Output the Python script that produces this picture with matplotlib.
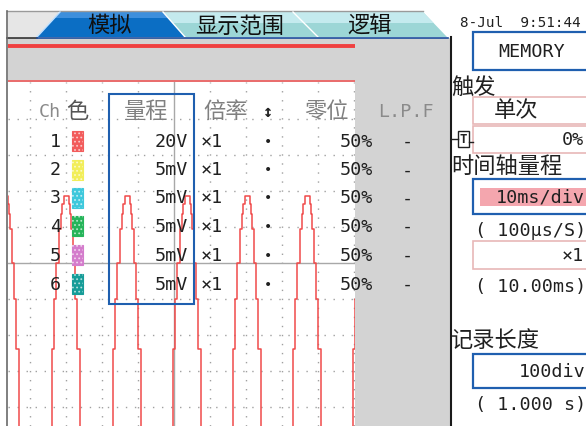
import matplotlib
matplotlib.use('Agg')
import matplotlib.pyplot as plt
from matplotlib import font_manager
from matplotlib.patches import Rectangle, Polygon

names = {f.name for f in font_manager.fontManager.ttflist}
if 'Noto Sans Mono CJK SC' in names:
    ui_font = ['Noto Sans Mono CJK SC', 'DejaVu Sans Mono', 'DejaVu Sans']
else:
    ui_font = ['DejaVu Sans Mono', 'Noto Sans CJK SC', 'DejaVu Sans']
plt.rcParams['font.family'] = ui_font
plt.rcParams['lines.scale_dashes'] = False
plt.rcParams['hatch.linewidth'] = 0.8

# ---- texts / table values ----
tabs = ['模拟', '显示范围', '逻辑']
clock = '8-Jul  9:51:44'
header = ['Ch', '色', '量程', '倍率', '↕', '零位', 'L.P.F']
channels = ['1', '2', '3', '4', '5', '6']
ch_colors = ['#f25c5c', '#f2ee5a', '#3ec8dc', '#26b45a', '#d47ccc', '#169c98']
ranges = ['20V', '5mV', '5mV', '5mV', '5mV', '5mV']
factors = ['×1', '×1', '×1', '×1', '×1', '×1']
zero_pos = ['50%', '50%', '50%', '50%', '50%', '50%']
lpf = ['-', '-', '-', '-', '-', '-']

mode = 'MEMORY'
trig_label = '触发'
trig_mode = '单次'
trig_pos = '0%'
time_label = '时间轴量程'
time_div = '10ms/div'
sample_rate = '( 100μs/S)'
zoom_factor = '×1'
zoom_time = '( 10.00ms)'
rec_label = '记录长度'
rec_len = '100div'
rec_time = '( 1.000 s)'

# ---- CH1 trace (time in ms, value in V, 20 V/div, zero at 50%) ----
ch1_ms = [-1.3, -0.8, -0.2, 0.3, 1.2, 1.7, 2.0, 2.5, 3.7, 3.9, 4.2, 4.5, 5.0, 5.6, 6.2, 7.0, 11.4,
          15.6, 16.1, 16.7, 17.2, 18.1, 18.6, 18.9, 19.4, 20.6, 20.8, 21.1, 21.4, 21.9, 22.5, 23.1, 23.9, 28.3,
          32.5, 33.0, 33.6, 34.1, 35.0, 35.5, 35.8, 36.3, 37.5, 37.7, 38.0, 38.3, 38.8, 39.4, 40.0, 40.8, 45.2,
          49.2, 49.7, 50.3, 50.8, 51.7, 52.2, 52.5, 53.0, 54.2, 54.4, 54.7, 55.0, 55.5, 56.1, 56.7, 57.5, 61.9,
          65.9, 66.4, 67.0, 67.5, 68.4, 68.9, 69.2, 69.7, 70.9, 71.1, 71.4, 71.7, 72.2, 72.8, 73.4, 74.2, 78.6,
          82.5, 83.0, 83.6, 84.1, 85.0, 85.5, 85.8, 86.3, 87.5, 87.7, 88.0, 88.3, 88.8, 89.4, 90.0, 90.8, 95.2,
          99.2, 99.7, 100.3, 100.8]
ch1_v = [-100, -48, -20, 0, 19, 27, 33, 37, 37, 33, 27, 19, 0, -20, -48, -100, -160,
         -100, -48, -20, 0, 19, 27, 33, 37, 37, 33, 27, 19, 0, -20, -48, -100, -160,
         -100, -48, -20, 0, 19, 27, 33, 37, 37, 33, 27, 19, 0, -20, -48, -100, -160,
         -100, -48, -20, 0, 19, 27, 33, 37, 37, 33, 27, 19, 0, -20, -48, -100, -160,
         -100, -48, -20, 0, 19, 27, 33, 37, 37, 33, 27, 19, 0, -20, -48, -100, -160,
         -100, -48, -20, 0, 19, 27, 33, 37, 37, 33, 27, 19, 0, -20, -48, -100, -160,
         -100, -48, -20, 0]
grid_ms = [10, 20, 30, 40, 60, 70, 80, 90, 100]
grid_v = [80, 60, 40, 20, -20, -40, -60, -80]

W, H = 586, 427
LAT = 13.2   # latin text size (narrow, like the recorder font)
CJK = 16
fig = plt.figure(figsize=(5.86, 4.27), dpi=100)
fig.patch.set_facecolor('white')

# background axes in screen pixels
bg = fig.add_axes([0, 0, 1, 1], zorder=0)
bg.set_xlim(0, W)
bg.set_ylim(H, 0)
bg.axis('off')

# tab strip
bg.add_patch(Rectangle((8, 12), 50, 26, fc='#e6e6e6', ec='none'))
bg.plot([7, 423], [12, 12], color='#9a9a9a', lw=1)
teal = Polygon([(163, 13), (423, 13), (447, 38), (185, 38)], fc='#9cd6d6', ec='none')
bg.add_patch(teal)
hl = Rectangle((150, 13), 300, 11, fc='#c4eaee', ec='none')
bg.add_patch(hl)
hl.set_clip_path(teal)
blue = Polygon([(60, 13), (163, 13), (185, 38), (37, 38)], fc='#0b6ec4', ec='none')
bg.add_patch(blue)
hl2 = Rectangle((30, 13), 160, 6, fc='#3d8fdc', ec='none')
bg.add_patch(hl2)
hl2.set_clip_path(blue)
bg.plot([37, 60], [38, 13], color='#bfe0ff', lw=1)
bg.plot([163, 185], [13, 38], color='white', lw=1)
bg.plot([293, 318], [13, 38], color='white', lw=1)
bg.plot([7, 37], [38.5, 38.5], color='#303030', lw=1.2)
bg.plot([37, 448], [38.5, 38.5], color='#1b4c9c', lw=1.2)
for s, cx in zip(tabs, [110, 240, 370]):
    bg.text(cx, 26, s, ha='center', va='center', fontsize=CJK, color='#101010')
bg.text(460, 23, clock, ha='left', va='center', fontsize=10.4, color='#202020')

# grey panel, red bars, frame lines
bg.add_patch(Rectangle((8, 39), 442, 388, fc='#d3d3d3', ec='none'))
bg.plot([8, 355], [47, 47], color='#f04040', lw=2.8, solid_capstyle='butt')
bg.plot([8, 355], [82, 82], color='#f05050', lw=1.1, solid_capstyle='butt')
bg.plot([7, 7], [12, 427], color='#6a6a6a', lw=1.2)
bg.plot([451, 451], [38, 427], color='#1a1a1a', lw=1.5)

# waveform screen
wv = fig.add_axes([8 / W, 0, (355 - 8) / W, (427 - 83) / H], zorder=1)
wv.set_facecolor('white')
wv.set_xlim(3.9, 100.3)
wv.set_ylim(-90.6, 100.6)
for sp in wv.spines.values():
    sp.set_visible(False)
wv.set_xticks([])
wv.set_yticks([])
for v in grid_v:
    wv.axhline(v, color='#a0a0a0', lw=1.0, ls=(0, (1.0, 5.5)))
for t in grid_ms:
    wv.axvline(t, color='#a0a0a0', lw=1.0, ls=(0, (1.0, 5.5)))
wv.axhline(0, color='#a8a8a8', lw=1.0)
wv.axvline(50, color='#a8a8a8', lw=1.0)
wv.plot(ch1_ms, ch1_v, color='#f04a4a', lw=1.1, drawstyle='steps-post', zorder=3)

# foreground axes in screen pixels
fg = fig.add_axes([0, 0, 1, 1], zorder=2)
fg.set_xlim(0, W)
fg.set_ylim(H, 0)
fg.axis('off')
fg.patch.set_alpha(0)

hy = 112
fg.text(61, hy, header[0], ha='right', va='center', fontsize=LAT, color='#8a8a8a')
fg.text(66, hy, header[1], ha='left', va='center', fontsize=CJK, color='#555555')
fg.text(146, hy, header[2], ha='center', va='center', fontsize=CJK, color='#808080')
fg.text(226, hy, header[3], ha='center', va='center', fontsize=CJK, color='#808080')
fg.text(268, hy, header[4], ha='center', va='center', fontsize=12, color='#222222', weight='bold')
fg.text(326, hy, header[5], ha='center', va='center', fontsize=CJK, color='#808080')
fg.text(406, hy, header[6], ha='center', va='center', fontsize=LAT, color='#8a8a8a')

row_y = [142, 170.5, 198.5, 227, 256, 285]
for i, y in enumerate(row_y):
    fg.text(61, y, channels[i], ha='right', va='center', fontsize=LAT, color='#202020')
    fg.add_patch(Rectangle((72, y - 10), 11, 20, fc=ch_colors[i], ec=ch_colors[i], lw=0.8))
    fg.add_patch(Rectangle((72, y - 10), 11, 20, fill=False, hatch='....', ec='white', lw=0, alpha=0.6))
    fg.text(188, y, ranges[i], ha='right', va='center', fontsize=LAT, color='#202020')
    fg.text(201, y, factors[i], ha='left', va='center', fontsize=LAT, color='#202020')
    fg.text(268, y, '•', ha='center', va='center', fontsize=10, color='#202020')
    fg.text(373, y, zero_pos[i], ha='right', va='center', fontsize=LAT, color='#202020')
    fg.text(407, y, lpf[i], ha='center', va='center', fontsize=LAT, color='#202020')
fg.add_patch(Rectangle((109, 95), 85, 210, fill=False, ec='#1f5faf', lw=1.5))

# right-hand settings panel
blue_ec = '#1f5faf'
pink_ec = '#e8b8b8'
fg.add_patch(Rectangle((473, 33), 130, 38, fc='white', ec=blue_ec, lw=1.6))
fg.text(532, 52, mode, ha='center', va='center', fontsize=LAT, color='#202020')
fg.text(451, 88, trig_label, ha='left', va='center', fontsize=CJK, color='#202020')
fg.add_patch(Rectangle((473, 98), 130, 27, fc='white', ec=pink_ec, lw=1.2))
fg.text(516, 111, trig_mode, ha='center', va='center', fontsize=CJK, color='#202020')
fg.add_patch(Rectangle((473, 127), 130, 27, fc='white', ec=pink_ec, lw=1.2))
fg.text(584, 140, trig_pos, ha='right', va='center', fontsize=LAT, color='#202020')
fg.add_patch(Rectangle((458, 132), 11, 16, fill=False, ec='#202020', lw=1))
fg.text(463.5, 140, 'T', ha='center', va='center', fontsize=9, color='#202020', weight='bold')
fg.plot([452, 458], [140, 140], color='#202020', lw=1)
fg.plot([469, 473], [143, 143], color='#202020', lw=1)
fg.text(451, 167, time_label, ha='left', va='center', fontsize=CJK, color='#202020')
fg.add_patch(Rectangle((473, 180), 130, 35, fc='white', ec=blue_ec, lw=1.6))
fg.add_patch(Rectangle((480, 189), 120, 18, fc='#f4a6ae', ec='none'))
fg.text(496, 198, time_div, ha='left', va='center', fontsize=LAT, color='#202020')
fg.text(475, 231, sample_rate, ha='left', va='center', fontsize=LAT, color='#202020')
fg.add_patch(Rectangle((473, 242), 130, 28, fc='white', ec=pink_ec, lw=1.2))
fg.text(584, 256, zoom_factor, ha='right', va='center', fontsize=LAT, color='#202020')
fg.text(475, 287, zoom_time, ha='left', va='center', fontsize=LAT, color='#202020')
fg.text(451, 341, rec_label, ha='left', va='center', fontsize=CJK, color='#202020')
fg.add_patch(Rectangle((473, 355), 130, 34, fc='white', ec=blue_ec, lw=1.6))
fg.text(519, 372, rec_len, ha='left', va='center', fontsize=LAT, color='#202020')
fg.text(475, 405, rec_time, ha='left', va='center', fontsize=LAT, color='#202020')

fig.savefig('out.png', dpi=100)
